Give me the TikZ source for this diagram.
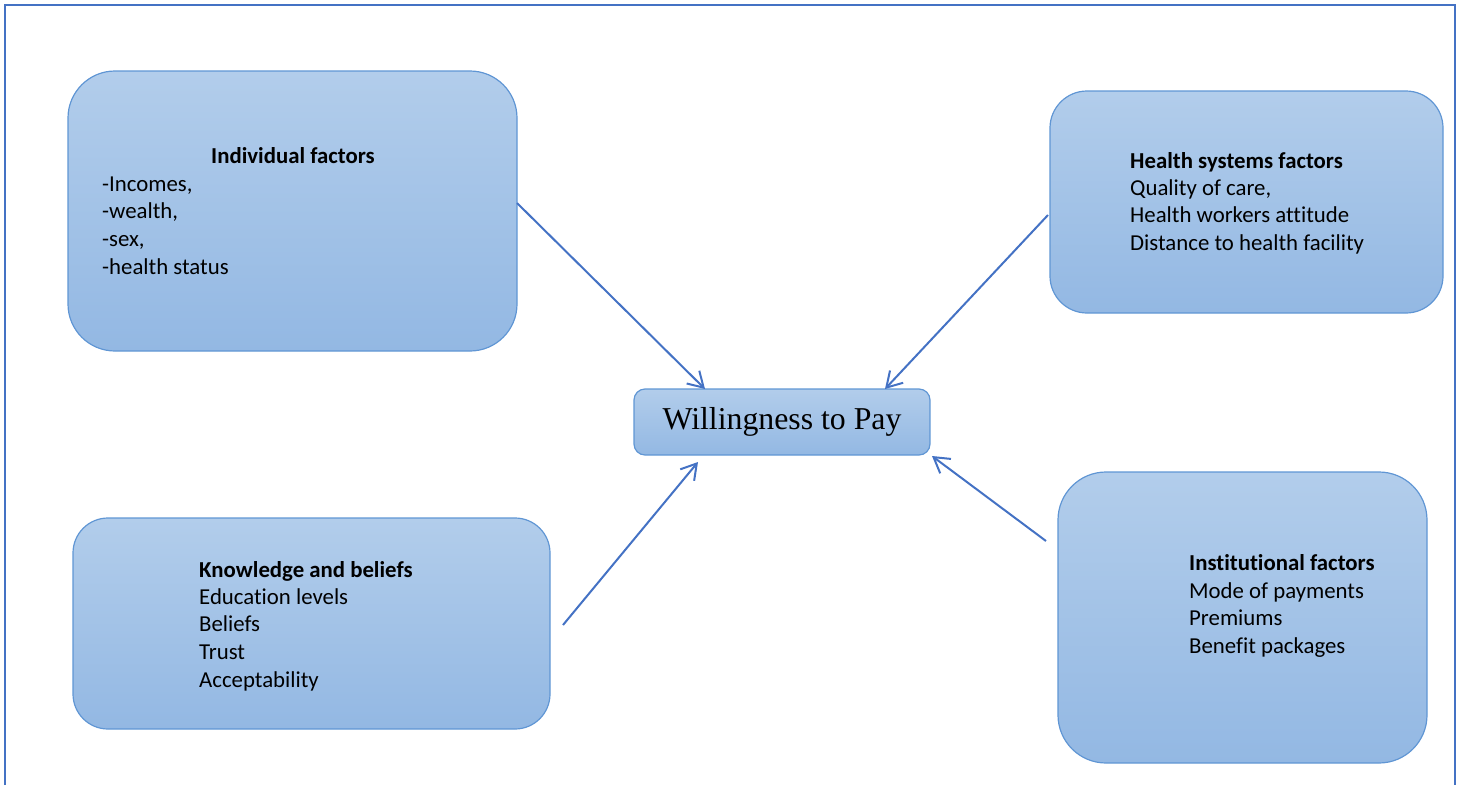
\documentclass[tikz,border=0pt]{standalone}
\usepackage{fontspec}
\setmainfont{Carlito}[Ligatures=NoCommon]
\newfontfamily\wtpfont{Liberation Serif}
\usetikzlibrary{arrows.meta}

\definecolor{boxtop}{RGB}{178,205,235}
\definecolor{boxbottom}{RGB}{147,184,227}
\definecolor{boxline}{RGB}{96,150,212}
\definecolor{arrowblue}{RGB}{68,114,196}

\tikzset{
  factor/.style={draw=boxline, line width=1.2pt, top color=boxtop, bottom color=boxbottom,
    inner sep=0pt, outer sep=0pt, anchor=north west},
  head/.style={anchor=base west, inner sep=0pt, font=\fontsize{22.8}{26}\selectfont\bfseries},
  item/.style={anchor=base west, inner sep=0pt, font=\fontsize{22.8}{26}\selectfont},
  link/.style={draw=arrowblue, line width=2pt, -{Straight Barb[length=15pt,width=18pt]}}
}

\begin{document}
\begin{tikzpicture}[x=1pt, y=-1pt]
        \useasboundingbox (0,0) rectangle (1457,785);
        \draw[arrowblue, line width=1.5pt] (5,785) -- (5,5) -- (1455,5) -- (1455,785);

        % boxes
        \node[factor, minimum width=449, minimum height=280, rounded corners=47pt] (indiv) at (68,71) {};
        \node[factor, minimum width=393, minimum height=222, rounded corners=37pt] (health) at (1050,91) {};
        \node[factor, minimum width=477, minimum height=211, rounded corners=35pt] (know) at (73,518) {};
        \node[factor, minimum width=369, minimum height=291, rounded corners=48pt] (inst) at (1058,472) {};
        \node[factor, minimum width=296, minimum height=66, rounded corners=11pt,
              font=\wtpfont\fontsize{31.8}{36}\selectfont] (wtp) at (634,389) {\raisebox{-1pt}{Willingness to Pay}};

        % texts
        \node[head] (indivhead) at (211,163) {Individual factors};
        \foreach \txt [count=\i] in {{-Incomes,},{-wealth,},{-sex,},{-health status}}
          \node[item] (indiv\i) at (102,{191+27.7*(\i-1)}) {\txt};

        \node[head] (healthhead) at (1130,168) {Health systems factors};
        \foreach \txt [count=\i] in {{Quality of care,},{Health workers attitude},{Distance to health facility}}
          \node[item] (health\i) at (1130,{195+27.7*(\i-1)}) {\txt};

        \node[head] (knowhead) at (199,577) {Knowledge and beliefs};
        \foreach \txt [count=\i] in {Education levels,Beliefs,Trust,Acceptability}
          \node[item] (know\i) at (199,{604+27.7*(\i-1)}) {\txt};

        \node[head] (insthead) at (1189,570) {Institutional factors};
        \foreach \txt [count=\i] in {Mode of payments,Premiums,Benefit packages}
          \node[item] (inst\i) at (1189,{598+27.7*(\i-1)}) {\txt};

        % arrows
        \coordinate (indivout) at (517,203);
        \coordinate (healthout) at (1048,215);
        \coordinate (knowout) at (563,625);
        \coordinate (instout) at (1046,541);
        \coordinate (wtpa) at (705,389);
        \coordinate (wtpb) at (885,389);
        \coordinate (wtpc) at (698,462);
        \coordinate (wtpd) at (932,456);

        \draw[link] (indivout) -- (wtpa);
        \draw[link] (healthout) -- (wtpb);
        \draw[link] (knowout) -- (wtpc);
        \draw[link] (instout) -- (wtpd);
      \end{tikzpicture}
\end{document}
